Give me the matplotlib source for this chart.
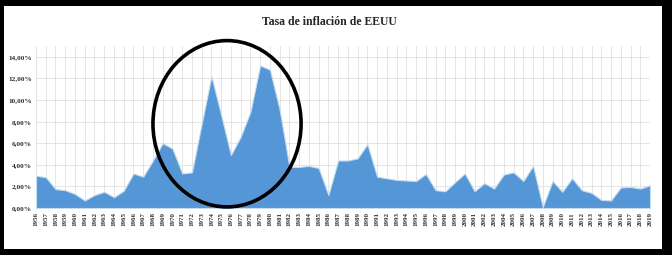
import numpy as np
import matplotlib
matplotlib.use("Agg")
import matplotlib.pyplot as plt
from matplotlib.patches import Ellipse, Rectangle

# -------------------------------------------------------------------------
# DATA
# -------------------------------------------------------------------------
years = list(range(1956, 2020))
inflacion = [3.0, 2.85, 1.75, 1.65, 1.3, 0.7, 1.2, 1.5, 1.0, 1.6,
             3.2, 2.9, 4.4, 6.0, 5.5, 3.2, 3.3, 7.8, 12.2, 8.6,
             4.9, 6.6, 8.9, 13.2, 12.8, 9.1, 3.8, 3.8, 3.9, 3.7,
             1.2, 4.4, 4.4, 4.6, 5.9, 2.9, 2.75, 2.6, 2.55, 2.5,
             3.15, 1.65, 1.55, 2.4, 3.2, 1.55, 2.3, 1.8, 3.1, 3.3,
             2.5, 3.9, 0.1, 2.5, 1.5, 2.75, 1.65, 1.4, 0.75, 0.7,
             1.9, 1.95, 1.8, 2.1]
y_ticks = [0, 2, 4, 6, 8, 10, 12, 14]
titulo = "Tasa de inflación de EEUU"

serif = "Liberation Serif"

# -------------------------------------------------------------------------
# FIGURE
# -------------------------------------------------------------------------
fig = plt.figure(figsize=(6.72, 2.62), dpi=100)
fig.patch.set_facecolor("white")

# black frame of the screenshot
fig.patches.append(Rectangle((0, 7 / 262), 1, 1 - 7 / 262, transform=fig.transFigure,
                             facecolor="black", edgecolor="none", zorder=-20))
fig.patches.append(Rectangle((4 / 672, 13 / 262), 658 / 672, 243 / 262, transform=fig.transFigure,
                             facecolor="white", edgecolor="none", zorder=-10))

ax = fig.add_axes([36 / 672, 54 / 262, 614 / 672, 162 / 262])
ax.set_facecolor("none")

ax.fill_between(years, inflacion, 0, color="#5597d6", edgecolor="#c5dcf0",
                linewidth=0.8, zorder=2)

ax.set_xlim(years[0], years[-1])
ax.set_ylim(0, 15)
ax.set_yticks(y_ticks)
ax.set_yticklabels(["%d,00%%" % v for v in y_ticks], fontfamily=serif,
                   fontweight="bold", fontsize=5.2, color="#303030")
ax.set_xticks(years)
ax.set_xticklabels([str(y) for y in years], rotation=90, fontfamily=serif,
                   fontweight="bold", fontsize=5, color="#303030")
ax.tick_params(length=0, pad=3)

ax.grid(True, color="#e0e0e0", linewidth=0.6, zorder=0)
ax.set_axisbelow(True)
for s in ax.spines.values():
    s.set_visible(False)

# highlight circle around the 70s
ax.add_patch(Ellipse((1975.6, 7.8), 15.2, 15.4, fill=False, edgecolor="black",
                     linewidth=2.6, zorder=5, clip_on=False))

fig.text(0.49, 1 - 22 / 262, titulo, ha="center", va="center", fontfamily=serif,
         fontweight="bold", fontsize=8.5, color="#262626")

fig.savefig("out.png", dpi=100)
